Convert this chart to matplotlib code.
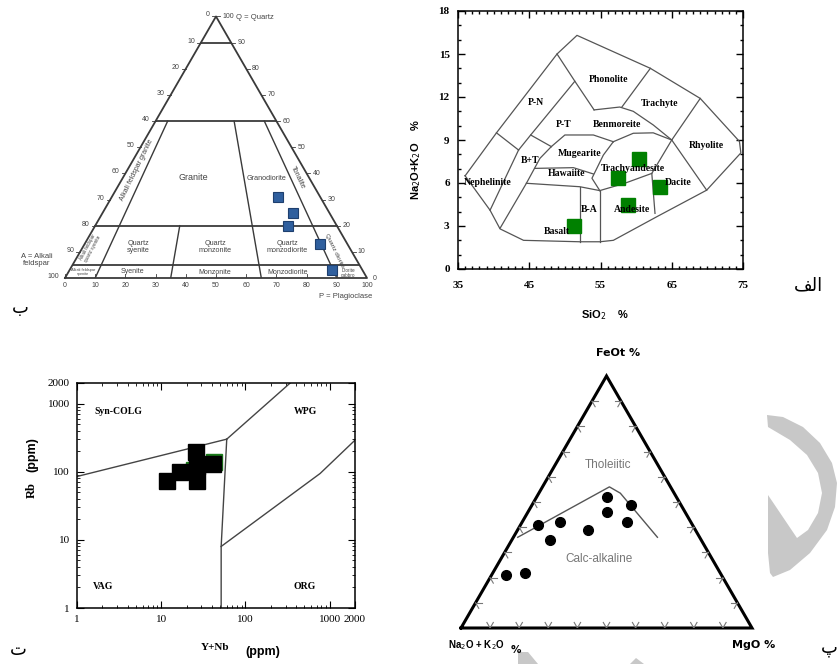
import matplotlib.pyplot as plt
import matplotlib.ticker as mticker
from matplotlib.patches import Polygon
import numpy as np

W, H = 838, 664
S = np.sqrt(3) / 2

# --- QAP (Streckeisen) samples: Q %, P % of total
qap_q = [31, 25, 20, 13, 3]
qap_p = [55, 63, 64, 78, 87]
qap_levels = [90, 60, 20, 5]
qap_ratio_lines = [(10, 60), (35, 20), (65, 60), (90, 60)]  # P/(A+P) %, top Q

# --- TAS samples
tas_si = [60.4, 57.4, 63.4, 58.8, 51.3]
tas_alk = [7.65, 6.37, 5.74, 4.47, 3.0]
tas_outline_si = [36.0, 40.4, 48.9, 51.7, 62.0, 69.0, 74.5, 74.7, 69.9, 63.1, 56.8, 54.9, 52.1, 44.2, 40.9, 39.5, 36.0]
tas_outline_alk = [6.5, 9.5, 15.0, 16.3, 14.0, 11.9, 8.9, 8.1, 5.5, 3.7, 2.0, 1.9, 1.9, 2.0, 2.8, 4.1, 6.5]
tas_lines = [
    ([48.9, 51.4, 54.1], [15.0, 13.1, 11.1]),
    ([51.4, 45.2, 43.5], [13.1, 9.35, 8.3]),
    ([40.4, 43.5], [9.5, 8.3]),
    ([43.5, 39.5], [8.3, 4.1]),
    ([45.2, 48.1], [9.35, 8.54]),
    ([48.1, 46.5, 44.6, 40.9], [8.54, 7.72, 5.98, 2.84]),
    ([48.1, 50.0, 54.0, 56.8], [8.54, 9.35, 9.35, 8.88]),
    ([54.1, 55.9, 57.7, 59.6, 62.4, 65.0], [11.1, 11.2, 11.3, 11.0, 10.05, 9.0]),
    ([62.0, 58.0], [14.0, 11.3]),
    ([69.0, 65.0, 69.9], [11.9, 9.0, 5.5]),
    ([65.0, 62.2, 62.65], [9.0, 6.67, 3.88]),
    ([56.8, 59.6, 62.4, 65.0], [8.88, 9.47, 9.5, 9.0]),
    ([45.8, 51.2, 54.0], [7.02, 7.07, 6.63]),
    ([44.6, 52.1, 54.9], [5.98, 5.74, 5.47]),
    ([54.9, 58.4, 62.2], [5.47, 5.98, 6.67]),
    ([54.9, 53.8, 55.4, 56.8], [5.47, 6.33, 7.95, 8.88]),
    ([52.1, 52.1], [5.74, 1.9]),
    ([54.9, 54.9], [5.47, 1.86]),
]
tas_names = ["Phonolite", "Trachyte", "P-N", "P-T", "Benmoreite", "Rhyolite", "B+T", "Mugearite",
             "Hawaiite", "Trachyandesite", "Nephelinite", "Dacite", "Andesite", "B-A", "Basalt"]
tas_name_si = [56.1, 63.35, 46.0, 49.8, 57.3, 69.9, 45.1, 52.1, 50.25, 59.6, 39.1, 65.9, 59.4, 53.4, 48.85]
tas_name_alk = [13.2, 11.55, 11.6, 10.05, 10.05, 8.6, 7.6, 8.07, 6.63, 7.02, 6.05, 6.05, 4.12, 4.12, 2.6]

# --- Pearce Rb vs Y+Nb
ynb_green = [24.5, 42.4]
rb_green = [105, 138]
ynb_black = [11.7, 16.7, 25.9, 26.6, 41.2, 26.6]
rb_black = [73, 99, 197, 120, 129, 73]
pearce_lines = [
    ([1, 60], [85, 300]),
    ([60, 340], [300, 2000]),
    ([60, 51.5, 51.5], [300, 8, 1]),
    ([51.5, 770, 2000], [8, 94, 290]),
]

# --- AFM samples: FeOt %, MgO %
afm_f = [52, 49, 46, 42, 41, 42, 39, 35, 21, 22]
afm_m = [24, 34, 27, 36, 6, 13, 24, 13, 5, 11]
afm_div_f = [36, 56, 53.5, 36]
afm_div_m = [1.5, 23, 28, 49.5]

SERIF = "Liberation Serif"
SANS = "Liberation Sans"

fig = plt.figure(figsize=(W / 100, H / 100), dpi=100)


def box(l, t, r, b):
    return fig.add_axes([l / W, 1 - b / H, (r - l) / W, (b - t) / H])


def tri_xy(top, right):
    top = np.asarray(top, float) / 100
    right = np.asarray(right, float) / 100
    return right + top / 2, top * S


# ---------------- QAP panel ----------------
ax = box(65, 278 - 302 * S, 367, 278)
ax.set_xlim(0, 1)
ax.set_ylim(0, S)
ax.axis("off")
lc = "#3a3a3a"
ax.plot([0, 1, 0.5, 0], [0, 0, S, 0], color=lc, lw=1.3, clip_on=False)
for q in qap_levels:
    x, y = tri_xy([q, q], [0, 100 - q])
    ax.plot(x, y, color=lc, lw=1.3)
for r, qtop in qap_ratio_lines:
    qs = np.array([qtop, 0])
    x, y = tri_xy(qs, r * (100 - qs) / 100)
    ax.plot(x, y, color=lc, lw=1.0)
tk = dict(fontsize=5, color="#444", family=SANS)
for k in range(0, 11):
    q = k * 10
    # left side: A labels
    x, y = tri_xy(q, 0)
    ax.text(x - 0.02, y + 0.005, str(100 - q), ha="right", va="center", **tk)
    ax.plot([x, x - 0.012], [y, y], color=lc, lw=0.6)
    # right side: Q labels
    x, y = tri_xy(q, 100 - q)
    ax.text(x + 0.02, y, str(q), ha="left", va="center", **tk)
    ax.plot([x, x + 0.012], [y, y], color=lc, lw=0.6)
    # base: P labels
    ax.text(k / 10, -0.026, str(k * 10), ha="center", va="center", **tk)
    ax.plot([k / 10, k / 10], [0, 0.012], color=lc, lw=0.6)
px, py = tri_xy(qap_q, qap_p)
ax.plot(px, py, "s", ms=7, mfc="#2f5f9e", mec="#1e3f6e", mew=0.8)
lab = dict(color="#444", family=SANS, ha="center", va="center")
ax.text(0.424, 0.334, "Granite", fontsize=6.5, **lab)
ax.text(0.666, 0.331, "Granodiorite", fontsize=5.2, **lab)
ax.text(0.772, 0.334, "Tonalite", fontsize=5.2, rotation=-64, **lab)
ax.text(0.238, 0.358, "Alkali feldspar granite", fontsize=5, rotation=64, **lab)
ax.text(0.242, 0.103, "Quartz\nsyenite", fontsize=5.2, linespacing=1.0, **lab)
ax.text(0.497, 0.103, "Quartz\nmonzonite", fontsize=5.2, linespacing=1.0, **lab)
ax.text(0.735, 0.103, "Quartz\nmonzodiorite", fontsize=5.2, linespacing=1.0, **lab)
ax.text(0.893, 0.089, "Quartz diorite", fontsize=4.5, rotation=-64, **lab)
ax.text(0.083, 0.099, "Alkali feldspar\nquartz syenite", fontsize=3.3, rotation=62, linespacing=1.0, **lab)
ax.text(0.06, 0.02, "Alkali feldspar\nsyenite", fontsize=2.8, linespacing=1.0, **lab)
ax.text(0.225, 0.02, "Syenite", fontsize=5, **lab)
ax.text(0.497, 0.018, "Monzonite", fontsize=5, **lab)
ax.text(0.738, 0.018, "Monzodiorite", fontsize=5, **lab)
ax.text(0.937, 0.018, "Diorite\ngabbro", fontsize=3.3, linespacing=1.0, **lab)
ax.text(-0.094, 0.06, "A = Alkali\nfeldspar", fontsize=5.5, color="#444", family=SANS,
        ha="center", va="center", linespacing=1.1)
ax.text(0.93, -0.062, "P = Plagioclase", fontsize=5.5, color="#444", family=SANS, ha="center", va="center")
ax.text(0.565, 0.864, "Q = Quartz", fontsize=5.5, color="#444", family=SANS, ha="left", va="center")

# ---------------- TAS panel ----------------
ax = box(458, 11, 743, 269)
ax.set_xlim(35, 75)
ax.set_ylim(0, 18)
ax.plot(tas_outline_si, tas_outline_alk, color="#555", lw=0.9)
for xs, ys in tas_lines:
    ax.plot(xs, ys, color="#555", lw=0.9)
for name, x, y in zip(tas_names, tas_name_si, tas_name_alk):
    ax.text(x, y, name, fontsize=7, fontweight="bold", family=SERIF, ha="center", va="center")
ax.plot(tas_si, tas_alk, "s", ms=10.5, color="#008000")
ax.set_xticks([35, 45, 55, 65, 75])
ax.set_yticks(range(0, 19, 3))
ax.xaxis.set_minor_locator(mticker.MultipleLocator(1))
ax.yaxis.set_minor_locator(mticker.MultipleLocator(1))
ax.tick_params(which="both", direction="in", top=True, right=True, width=1)
ax.tick_params(which="major", length=5, labelsize=8, pad=6)
ax.tick_params(which="minor", length=2.5)
ax.tick_params(axis="x", which="major", pad=9)
for t in ax.get_xticklabels() + ax.get_yticklabels():
    t.set_family(SERIF)
    t.set_fontweight("bold")
for sp in ax.spines.values():
    sp.set_linewidth(1.1)
fig.text(416 / W, 1 - 160 / H, "Na$_2$O+K$_2$O    %", rotation=90, ha="center", va="center",
         fontsize=8, fontweight="bold", family=SANS)
fig.text(605 / W, 1 - 315 / H, "SiO$_2$    %", ha="center", va="center",
         fontsize=8, fontweight="bold", family=SANS)

# ---------------- Pearce panel ----------------
ax = box(77, 383, 355, 608)
ax.set_xscale("log")
ax.set_yscale("log")
ax.set_xlim(1, 2000)
ax.set_ylim(1, 2000)
for xs, ys in pearce_lines:
    ax.plot(xs, ys, color="#444", lw=1.0)
ax.plot(ynb_green, rb_green, "s", ms=11.5, color="#1a7a1a")
ax.plot(ynb_black, rb_black, "s", ms=11.5, color="black")
ticks = [1, 10, 100, 1000, 2000]
ax.set_xticks(ticks)
ax.set_xticklabels([str(t) for t in ticks])
ax.set_yticks(ticks)
ax.set_yticklabels([str(t) for t in ticks])
ax.xaxis.set_minor_locator(mticker.LogLocator(base=10, subs=np.arange(2, 10)))
ax.yaxis.set_minor_locator(mticker.LogLocator(base=10, subs=np.arange(2, 10)))
ax.xaxis.set_minor_formatter(mticker.NullFormatter())
ax.yaxis.set_minor_formatter(mticker.NullFormatter())
ax.tick_params(which="both", direction="in", top=True, right=True)
ax.tick_params(which="major", length=5, labelsize=8, pad=5)
ax.tick_params(which="minor", length=2.5)
for t in ax.get_xticklabels() + ax.get_yticklabels():
    t.set_family(SERIF)
for sp in ax.spines.values():
    sp.set_linewidth(1.1)
pl = dict(fontsize=7, fontweight="bold", family=SERIF, ha="center", va="center")
ax.text(3.07, 774, "Syn-COLG", **pl)
ax.text(510, 774, "WPG", **pl)
ax.text(2.04, 2.1, "VAG", **pl)
ax.text(510, 2.1, "ORG", **pl)
fig.text(32 / W, 1 - 490 / H, "Rb", rotation=90, ha="center", va="center",
         fontsize=9, fontweight="bold", family=SERIF)
fig.text(32 / W, 1 - 455 / H, "(ppm)", rotation=90, ha="center", va="center",
         fontsize=9, fontweight="bold", family=SANS)
fig.text(215 / W, 1 - 648 / H, "Y+Nb", ha="center", va="center",
         fontsize=8, fontweight="bold", family=SERIF)
fig.text(263 / W, 1 - 652 / H, "(ppm)", ha="center", va="center",
         fontsize=9, fontweight="bold", family=SANS)

# ---------------- AFM panel ----------------
ax = box(461, 628 - 291 * S, 752, 628)
ax.set_xlim(0, 1)
ax.set_ylim(0, S)
ax.axis("off")
ax.plot([0, 1, 0.5, 0], [0, 0, S, 0], color="black", lw=2.2, clip_on=False, solid_joinstyle="miter")
arm = 0.022
for k in range(1, 10):
    f = k / 10
    sides = [((f, 0), [(0.5, S), (-0.5, S)]),
             ((f / 2, f * S), [(1, 0), (0.5, -S)]),
             ((1 - f / 2, f * S), [(-1, 0), (-0.5, -S)])]
    for (x0, y0), dirs in sides:
        for dx, dy in dirs:
            ax.plot([x0, x0 + arm * dx], [y0, y0 + arm * dy], color="#777", lw=0.8)
dx_, dy_ = tri_xy(afm_div_f, afm_div_m)
ax.plot(dx_, dy_, color="#555", lw=1.0)
ax_, ay_ = tri_xy(afm_f, afm_m)
ax.plot(ax_, ay_, "o", ms=7, color="black")
ax.text(0.505, 0.56, "Tholeiitic", fontsize=8.5, color="#777", family=SANS, ha="center", va="center")
ax.text(0.474, 0.237, "Calc-alkaline", fontsize=8.5, color="#777", family=SANS, ha="center", va="center")
ax.text(0.54, 0.945, "FeOt %", fontsize=8, fontweight="bold", family="DejaVu Sans", ha="center", va="center")
ax.text(-0.045, -0.058, "Na$_2$O + K$_2$O", fontsize=7, fontweight="bold", family=SANS,
        ha="left", va="center")
ax.text(0.19, -0.076, "%", fontsize=7.5, fontweight="bold", family="DejaVu Sans", ha="center", va="center")
ax.text(1.005, -0.058, "MgO %", fontsize=8, fontweight="bold", family="DejaVu Sans", ha="center", va="center")

# ---------------- page decorations ----------------
ov = fig.add_axes([0, 0, 1, 1], zorder=-1)
ov.set_xlim(0, W)
ov.set_ylim(H, 0)
ov.axis("off")
crescent = [(767, 415), (783, 417), (803, 427), (820, 443), (832, 463), (837, 483), (835, 507),
            (827, 530), (810, 553), (790, 570), (773, 577), (770, 573), (768, 553), (768, 495),
            (797, 538), (808, 530), (818, 513), (822, 493), (818, 473), (807, 455),
            (790, 440), (768, 427)]
ov.add_patch(Polygon(crescent, closed=True, color="#c8c8c8", lw=0))
ov.add_patch(Polygon([(518, 652), (528, 652), (538, 664), (518, 664)], closed=True, color="#c8c8c8", lw=0))
ov.add_patch(Polygon([(630, 664), (636, 658), (644, 664)], closed=True, color="#c8c8c8", lw=0))

ar = dict(fontsize=13, family="DejaVu Sans", ha="center", va="center")
fig.text(20 / W, 1 - 308 / H, "\u0628", **ar)
fig.text(18 / W, 1 - 650 / H, "\u062a", **ar)
fig.text(808 / W, 1 - 285 / H, "\ufed2\ufedf\u0627", **ar)
fig.text(829 / W, 1 - 648 / H, "\u067e", **ar)

fig.savefig("out.png", dpi=100)
